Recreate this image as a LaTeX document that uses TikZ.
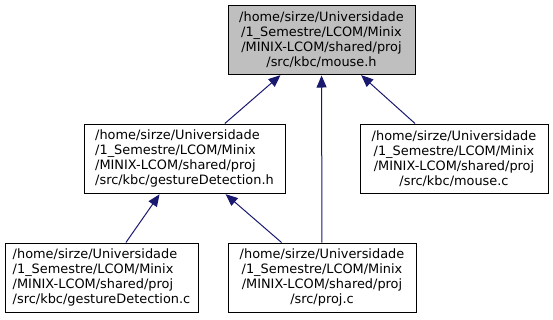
\documentclass[tikz,border=0pt]{standalone}
\usepackage{fontspec}
\setmainfont{DejaVu Sans}
\usetikzlibrary{arrows.meta}
\definecolor{edgeblue}{HTML}{191970}
\definecolor{filegray}{HTML}{BFBFBF}

\begin{document}
\begin{tikzpicture}[x=1pt,y=-1pt,
  file/.style={draw=black,line width=1pt,fill=white,inner sep=0pt,minimum height=69pt,
    font=\fontsize{12.9}{15}\selectfont},
  incl/.style={draw=edgeblue,line width=1pt,-{Triangle[length=12pt,width=10pt]},shorten >=1pt}]
\useasboundingbox (0,0) rectangle (553,319);
\node[file,fill=filegray,align=center,minimum width=187pt] (mouseh) at (321.5,39.5)
  {/home/sirze/Universidade\\/1\_Semestre/LCOM/Minix\\/MINIX-LCOM/shared/proj\\/src/kbc/mouse.h};
\node[file,align=left,minimum width=201pt] (gesth) at (184.5,158.5)
  {/home/sirze/Universidade\\/1\_Semestre/LCOM/Minix\\/MINIX-LCOM/shared/proj\\/src/kbc/gestureDetection.h};
\node[file,align=center,minimum width=188pt] (mousec) at (454,158.5)
  {/home/sirze/Universidade\\/1\_Semestre/LCOM/Minix\\/MINIX-LCOM/shared/proj\\/src/kbc/mouse.c};
\node[file,align=left,minimum width=193pt] (gestc) at (101.5,277.5)
  {/home/sirze/Universidade\\/1\_Semestre/LCOM/Minix\\/MINIX-LCOM/shared/proj\\/src/kbc/gestureDetection.c};
\node[file,align=center,minimum width=188pt] (projc) at (322,277.5)
  {/home/sirze/Universidade\\/1\_Semestre/LCOM/Minix\\/MINIX-LCOM/shared/proj\\/src/proj.c};
\draw[incl] (gesth) -- (mouseh);
\draw[incl] (projc) -- (mouseh);
\draw[incl] (mousec) -- (mouseh);
\draw[incl] (gestc) -- (gesth);
\draw[incl] (projc) -- (gesth);
\end{tikzpicture}
\end{document}
